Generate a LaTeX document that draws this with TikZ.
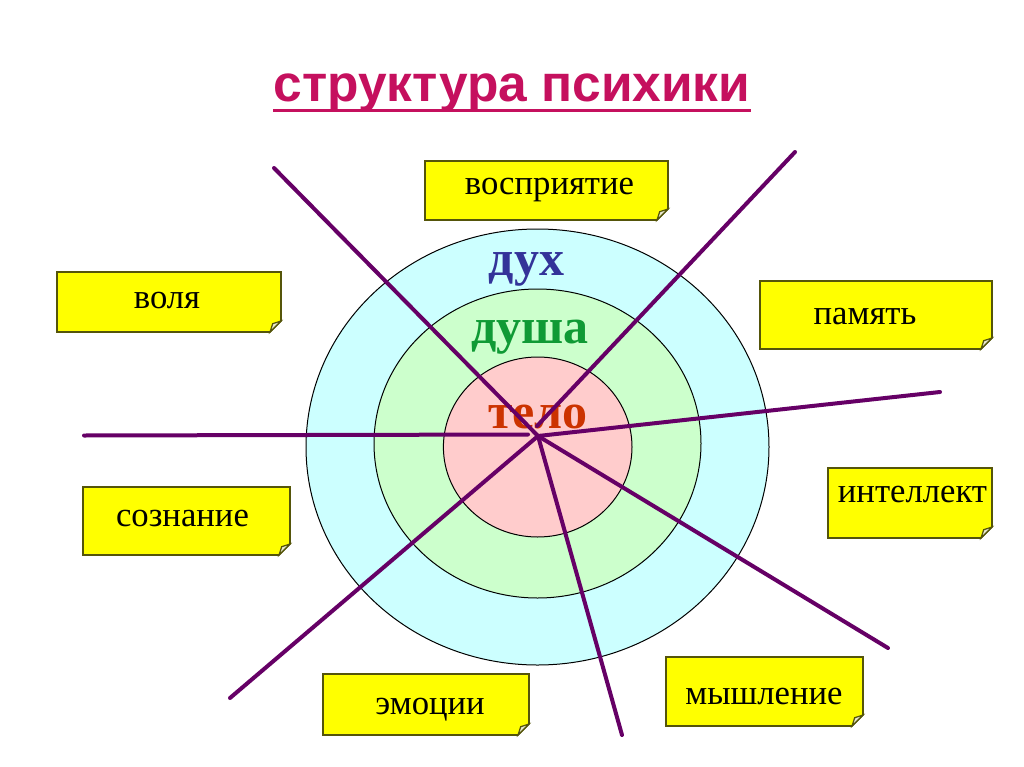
\documentclass[tikz,border=0pt]{standalone}
\usepackage{fontspec}
\setmainfont{Liberation Serif}
\newfontfamily\titlefont{Liberation Sans}
\definecolor{cyanfill}{HTML}{CCFFFF}
\definecolor{greenfill}{HTML}{CCFFCC}
\definecolor{pinkfill}{HTML}{FFCCCC}
\definecolor{raycol}{HTML}{660066}
\definecolor{dukhcol}{HTML}{333399}
\definecolor{dushacol}{HTML}{0F9A35}
\definecolor{telocol}{HTML}{CC3300}
\definecolor{titlecol}{HTML}{C5105E}
\definecolor{boxfill}{HTML}{FFFF00}
\definecolor{boxedge}{HTML}{55550A}
\definecolor{foldfill}{HTML}{E8E8D0}
\tikzset{
  ring/.style={draw=black, line width=0.75pt},
  ray/.style={draw=raycol, line width=3pt, line cap=round},
  boxline/.style={draw=boxedge, fill=boxfill, line width=1.2pt, line join=miter},
  foldline/.style={draw=boxedge, fill=foldfill, line width=0.9pt},
  boxtext/.style={anchor=base, inner sep=0pt, font=\fontsize{26}{30}\selectfont},
  ringtext/.style={anchor=base, inner sep=0pt, font=\fontsize{37.5}{40}\selectfont\bfseries},
}
\newcommand{\foldbox}[4]{%
  \draw[boxline] (#1,#2) -- (#3,#2) -- (#3,#4-11) -- (#3-11,#4) -- (#1,#4) -- cycle;
  \draw[foldline] (#3,#4-11) -- (#3-11,#4) -- (#3-8.3,#4-8.3) -- cycle;
}
\begin{document}
\begin{tikzpicture}[x=0.75pt,y=-0.75pt]
\useasboundingbox (0,0) rectangle (1024,767);
\fill[white] (0,0) rectangle (1024,767);
% title
\node[anchor=base, inner sep=0pt, text=titlecol, font=\titlefont\fontsize{38.6}{42}\selectfont\bfseries] (title) at (512,102) {структура психики};
\draw[titlecol, line width=2.4pt] (title.south west |- 0,110.5) -- (title.south east |- 0,110.5);
% rings
\draw[ring, fill=cyanfill] (537.5,447) ellipse [x radius=231.5, y radius=218];
\draw[ring, fill=greenfill] (537.5,443.5) ellipse [x radius=163.5, y radius=154.5];
\draw[ring, fill=pinkfill] (537.7,447) ellipse [x radius=94.3, y radius=90];
% ring labels
\node[ringtext, text=dukhcol] (dukh) at (526.5,275) {дух};
\node[ringtext, text=dushacol] (dusha) at (530,343) {душа};
\node[ringtext, text=telocol] (telo) at (538,428) {тело};
% rays
\coordinate (c) at (538,436);
\coordinate (cur) at (537,426);
\coordinate (cl) at (528,434.5);
\coordinate (eUL) at (274,168);
\coordinate (eUR) at (795,152);
\coordinate (eR) at (940,392);
\coordinate (eL) at (84,435.5);
\coordinate (eLL) at (230,698);
\coordinate (eD) at (622,735);
\coordinate (eLR) at (888,648);
\draw[ray] (c) -- (eUL);
\draw[ray] (cur) -- (eUR);
\draw[ray] (c) -- (eR);
\draw[ray] (cl) -- (eL);
\draw[ray] (c) -- (eLL);
\draw[ray] (c) -- (eD);
\draw[ray] (c) -- (eLR);
% boxes
\foldbox{425}{161}{668}{220}
\node[boxtext] (vospr) at (549.5,194) {восприятие};
\foldbox{57}{272}{281}{332}
\node[boxtext] (volya) at (167,308) {воля};
\foldbox{760}{281}{992}{349}
\node[boxtext] (pamyat) at (865,324) {память};
\foldbox{828}{468}{992}{538}
\node[boxtext] (intel) at (912.5,502.5) {интеллект};
\foldbox{83}{487}{290}{555}
\node[boxtext] (sozn) at (182.5,526.5) {сознание};
\foldbox{323}{674}{529}{735}
\node[boxtext] (emoc) at (430,714) {эмоции};
\foldbox{666}{657}{863}{726}
\node[boxtext] (mysh) at (764,704) {мышление};
\end{tikzpicture}
\end{document}
